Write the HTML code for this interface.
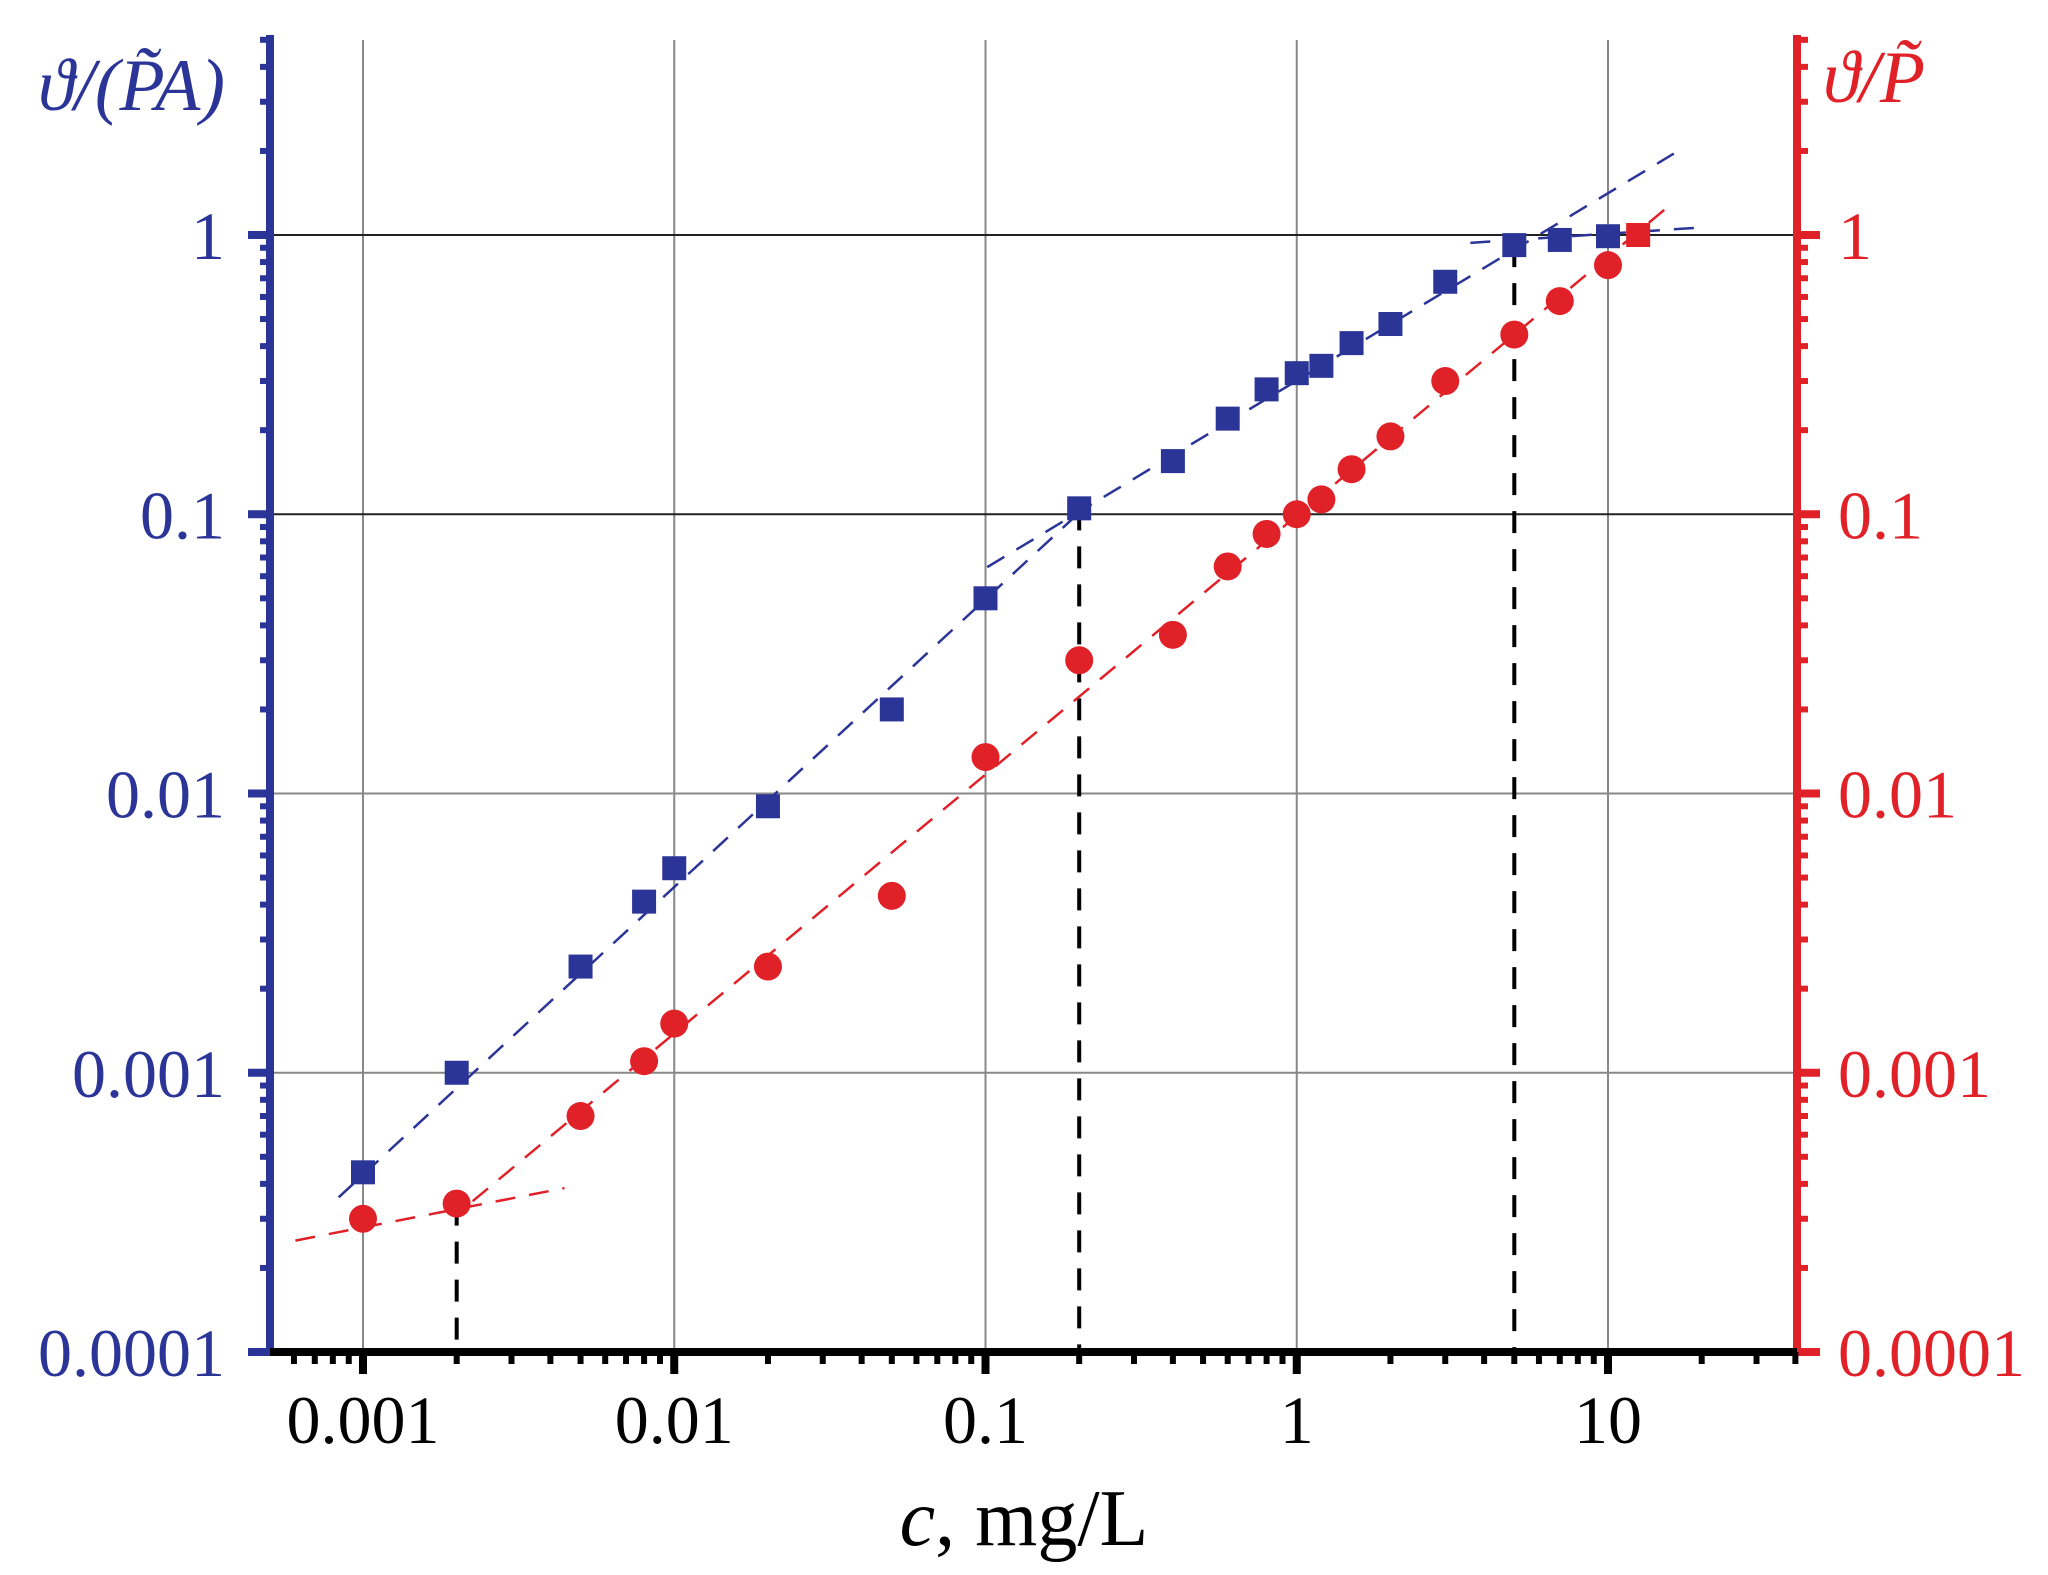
<!DOCTYPE html>
<html><head><meta charset="utf-8"><style>
html,body{margin:0;padding:0;background:#fff;}
svg{display:block;}
svg text{font-family:"Liberation Serif","Times New Roman",serif;}
</style></head><body>
<svg id="s" width="2048" height="1575" xmlns="http://www.w3.org/2000/svg"></svg>
<script>
const s=document.getElementById('s');
const X0=363,DX=311.25,Y0=235,DY=279.25;
const X=v=>X0+(Math.log10(v)+3)*DX;
const Y=v=>Y0-Math.log10(v)*DY;
let h='';
const L=(x1,y1,x2,y2,c,w,d)=>h+=`<line x1="${x1}" y1="${y1}" x2="${x2}" y2="${y2}" stroke="${c}" stroke-width="${w}"${d?` stroke-dasharray="${d}"`:''}/>`;
const T=(x,y,t,c,sz,a,st)=>h+=`<text x="${x}" y="${y}" fill="${c}" font-size="${sz}" text-anchor="${a}"${st?` font-style="italic"`:''}>${t}</text>`;
const B='#2b3497',R='#e02128';
[0.001,0.01,0.1,1,10].forEach(v=>L(X(v),40,X(v),1352,'#888',2));
[0.01,0.001].forEach(v=>L(270,Y(v),1796,Y(v),'#888',2));
[1,0.1].forEach(v=>L(270,Y(v),1796,Y(v),'#222',2));
L(X(0.002),Y(3.4e-4),X(0.002),1352,'#000',4,'22,16');
L(X(0.2),Y(0.105),X(0.2),1352,'#000',4,'22,16');
L(X(5),Y(0.92),X(5),1352,'#000',4,'22,16');
const k=1.3128;
const F=(a,b,c,d,col)=>L(a*k,b*k,c*k,d*k,col,2.5,'20,14');
F(258,912,828,385,B);F(752,432,1275,117,B);F(1120,185,1300,173,B);
F(225,945,430,905,R);F(360,915,1270,158,R);
const bs=[[0.001,4.4e-4],[0.002,1e-3],[0.005,2.4e-3],[0.008,4.1e-3],[0.01,5.4e-3],[0.02,9e-3],[0.05,0.02],[0.1,0.05],[0.2,0.105],[0.4,0.155],[0.6,0.22],[0.8,0.28],[1,0.32],[1.2,0.34],[1.5,0.41],[2,0.48],[3,0.68],[5,0.92],[7,0.96],[10,0.99]];
const rs=[[0.001,3e-4],[0.002,3.4e-4],[0.005,7e-4],[0.008,1.1e-3],[0.01,1.5e-3],[0.02,2.4e-3],[0.05,4.3e-3],[0.1,0.0135],[0.2,0.03],[0.4,0.037],[0.6,0.065],[0.8,0.085],[1,0.1],[1.2,0.113],[1.5,0.145],[2,0.19],[3,0.3],[5,0.44],[7,0.58],[10,0.78]];
bs.forEach(([a,b])=>h+=`<rect x="${X(a)-12}" y="${Y(b)-12}" width="24" height="24" fill="${B}"/>`);
h+=`<rect x="${X(12.5)-12}" y="${Y(1)-12}" width="24" height="24" fill="${R}"/>`;
rs.forEach(([a,b])=>h+=`<circle cx="${X(a)}" cy="${Y(b)}" r="14" fill="${R}"/>`);
L(270,35,270,1356,B,8);L(1797,35,1797,1356,R,8);
L(266,1352,1800,1352,'#000',8);
for(let d=-4;d<=1;d++)for(let m=1;m<=9;m++){const v=Math.pow(10,d)*m;const y=Y(v);if(y<35||y>1352)continue;
 const big=m==1;L(big?248:260,y,270,y,B,big?8:6);L(1797,y,big?1820:1808,y,R,big?8:6);}
for(let d=-4;d<=1;d++)for(let m=1;m<=9;m++){const v=Math.pow(10,d)*m;const x=X(v);if(x<270||x>1797)continue;
 const big=m==1;L(x,1352,x,big?1374:1364,'#000',big?8:6);}
[['1',1],['0.1',0.1],['0.01',0.01],['0.001',0.001],['0.0001',0.0001]].forEach(([t,v])=>{T(225,Y(v)+24,t,B,68,'end');T(1838,Y(v)+24,t,R,68,'start');});
[['0.001',0.001],['0.01',0.01],['0.1',0.1],['1',1],['10',10]].forEach(([t,v])=>T(X(v),1443,t,'#000',68,'middle'));
h+=`<text x="1024" y="1545" font-size="80" text-anchor="middle" fill="#000"><tspan font-style="italic">c</tspan>, mg/L</text>`;
h+=`<text x="38" y="110" font-size="74" fill="${B}" font-style="italic">ϑ/(P̃A)</text>`;
h+=`<text x="1823" y="102" font-size="74" fill="${R}" font-style="italic">ϑ/P̃</text>`;
s.innerHTML=h;
</script>
</body></html>
